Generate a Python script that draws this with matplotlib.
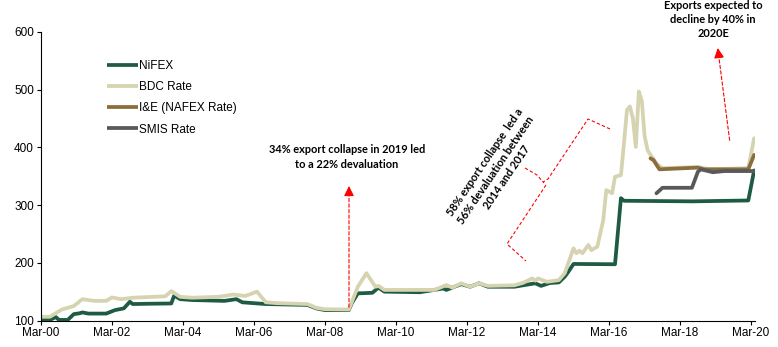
import matplotlib
matplotlib.use("Agg")
import matplotlib.pyplot as plt
import pandas as pd

# Monthly rates (NGN/USD) at its turning points
nifex_dates = ["2000-03", "2000-06", "2000-08", "2000-09", "2000-12", "2001-02", "2001-04", "2001-05",
               "2001-07", "2002-01", "2002-04", "2002-07", "2002-09", "2002-10", "2003-03", "2003-11",
               "2003-12", "2004-02", "2004-06", "2005-05", "2005-09", "2005-11", "2006-07", "2007-09",
               "2007-12", "2008-03", "2008-11", "2008-12", "2009-02", "2009-07", "2009-09", "2009-11",
               "2010-11", "2011-07", "2011-08", "2012-01", "2012-04", "2012-07", "2012-10", "2013-07",
               "2014-02", "2014-04", "2014-07", "2014-10", "2014-12", "2015-01", "2015-03", "2016-05",
               "2016-07", "2016-08", "2018-07", "2020-02", "2020-04"]
nifex_vals = [101, 101, 106, 101, 101, 111, 112.5, 114,
              112, 112, 118, 121, 132.5, 128.5, 129, 129.5,
              143, 137, 135.5, 134, 137, 131.5, 128.5, 127,
              121, 118, 118, 130, 147, 148, 157, 150,
              149, 155.5, 153, 163, 158.5, 164.5, 158.5, 158.5,
              164.5, 160, 165, 166, 176, 183, 198, 197.5,
              312, 307.5, 306.5, 308, 360]

bdc_dates = ["2000-03", "2000-06", "2000-10", "2001-02", "2001-05", "2001-09", "2002-01", "2002-03",
             "2002-06", "2002-10", "2003-05", "2003-09", "2003-11", "2004-02", "2004-06", "2005-03",
             "2005-08", "2005-12", "2006-04", "2006-05", "2006-07", "2006-11", "2007-09", "2007-12",
             "2008-03", "2008-11", "2009-02", "2009-05", "2009-08", "2009-09", "2009-11", "2011-04",
             "2011-08", "2011-10", "2012-01", "2012-04", "2012-07", "2012-10", "2013-07", "2013-10",
             "2014-01", "2014-02", "2014-03", "2014-06", "2014-10", "2014-12", "2015-03", "2015-04",
             "2015-05", "2015-06", "2015-08", "2015-09", "2015-11", "2016-01", "2016-02", "2016-04",
             "2016-05", "2016-07", "2016-08", "2016-09", "2016-10", "2016-11", "2016-12", "2017-01",
             "2017-02", "2017-03", "2017-04", "2017-05", "2017-06", "2017-07", "2017-09", "2018-09",
             "2019-01", "2020-02", "2020-04"]
bdc_vals = [106.5, 106.5, 119, 125, 137, 134, 134, 140,
            137, 139.5, 141, 142, 151, 141, 139.5, 141,
            145, 142.5, 150, 144, 131.5, 130, 128.5, 122,
            119.5, 119, 158.5, 182, 158.5, 160, 153, 153,
            161.5, 157, 164.5, 158.5, 164.5, 160, 161, 165.5,
            173, 169, 173, 167, 170, 182, 225, 216.5,
            221, 216.5, 231, 222, 228, 274, 326, 320.5,
            349, 352, 407, 465, 471, 450, 401, 497,
            480, 420, 395, 387, 380, 372, 364, 366,
            362, 364, 416]

ie_dates = ["2017-05", "2017-06", "2017-07", "2017-08", "2018-09", "2018-11", "2020-02", "2020-04"]
ie_vals = [381, 378, 370, 362, 365, 362, 362, 387]

smis_dates = ["2017-07", "2017-09", "2018-07", "2018-09", "2018-10", "2019-02", "2019-06", "2020-04"]
smis_vals = [320.5, 330, 330, 358, 362, 357, 359, 359]

series = [
    ("NiFEX", nifex_dates, nifex_vals, "#1e5b42"),
    ("BDC Rate", bdc_dates, bdc_vals, "#d6d3b1"),
    ("I&E (NAFEX Rate)", ie_dates, ie_vals, "#8c6d3d"),
    ("SMIS Rate", smis_dates, smis_vals, "#59595b"),
]

tick_years = list(range(2000, 2021, 2))
tick_labels = ["Mar-%02d" % (y % 100) for y in tick_years]

W, H = 778, 347
fig = plt.figure(figsize=(W / 100, H / 100), dpi=100)
ax = fig.add_axes([41 / W, 1 - 320.5 / H, (755 - 41) / W, (320.5 - 32) / H])

for name, d, v, c in series:
    ax.plot(pd.to_datetime(d), v, color=c, lw=2.7, label=name,
            solid_joinstyle="round", solid_capstyle="round")

ax.set_ylim(100, 600)
ax.set_yticks(range(100, 601, 100))
ax.set_xlim(pd.Timestamp("2000-03-01"), pd.Timestamp("2020-04-10"))
ax.set_xticks([pd.Timestamp("%d-03-01" % y) for y in tick_years])
ax.set_xticklabels(tick_labels)

for s in ["top", "right"]:
    ax.spines[s].set_visible(False)
for s in ["left", "bottom"]:
    ax.spines[s].set_linewidth(0.8)
ax.tick_params(length=3, width=0.8, pad=2, labelsize=8.5)
for lab in ax.get_xticklabels() + ax.get_yticklabels():
    lab.set_fontfamily("Liberation Sans")

leg = ax.legend(loc="upper left", bbox_to_anchor=(107 / W, 1 - 60 / H), bbox_transform=fig.transFigure,
                frameon=False, borderpad=0, borderaxespad=0, handlelength=2.6, handletextpad=0.15,
                labelspacing=0.78, prop={"family": "Liberation Sans", "size": 8.5})
for line in leg.get_lines():
    line.set_linewidth(2.7)
    line.set_solid_capstyle("butt")

# annotations (image pixel coords -> figure pixels)
def fp(x, y):
    return (x, H - y)

red = "#ff0000"
note_font = dict(family="Lato", weight="bold", size=7.9, color="black")

def dashed_arrow(x0, y0, x1, y1):
    ax.annotate("", xy=fp(x1, y1), xytext=fp(x0, y0), xycoords="figure pixels", textcoords="figure pixels",
                arrowprops=dict(arrowstyle="-", color=red, lw=0.8, linestyle=(0, (3, 2))))

def head(x0, y0, x1, y1):
    ax.annotate("", xy=fp(x1, y1), xytext=fp(x0, y0), xycoords="figure pixels", textcoords="figure pixels",
                arrowprops=dict(arrowstyle="-|>,head_length=0.6,head_width=0.3", color=red, lw=0.8,
                                shrinkA=0, shrinkB=0))

# 2008 arrow
dashed_arrow(349, 310, 349, 192)
head(349, 193, 349, 186)
fig.text(347 / W, 1 - 157 / H, "34% export collapse in 2019 led\nto a 22% devaluation",
         ha="center", va="center", linespacing=1.35, **note_font)

# 2020 arrow
dashed_arrow(730, 143, 718.6, 55)
head(718.7, 55, 717.8, 48)
fig.text(713 / W, 1 - 19.5 / H, "Exports expected to\ndecline by 40% in\n2020E",
         ha="center", va="center", linespacing=1.3, **note_font)

# bracket
brace = [[(610, 129), (588, 119), (548, 179), (543, 182)],
         [(525, 168), (537, 175), (544, 183)],
         [(546, 185), (507, 244), (526, 261)]]
for seg in brace:
    xs = [p[0] for p in seg]
    ys = [H - p[1] for p in seg]
    fig.add_artist(plt.Line2D([x / W for x in xs], [y / H for y in ys], color=red, lw=0.8,
                              linestyle=(0, (3, 2)), transform=fig.transFigure))

fig.text(496 / W, 1 - 170 / H, "58% export collapse  led a\n56% devaluation between\n2014 and 2017",
         ha="center", va="center", rotation=56, rotation_mode="anchor", linespacing=1.3, **note_font)

fig.savefig("out.png", dpi=100)
